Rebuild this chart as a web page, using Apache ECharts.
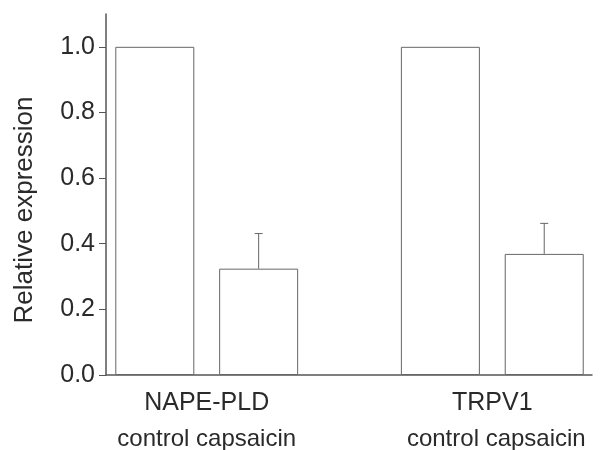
<!DOCTYPE html>
<html>
<head>
<meta charset="utf-8">
<script src="https://cdn.jsdelivr.net/npm/echarts@6/dist/echarts.min.js"></script>
<style>
  html, body { margin: 0; padding: 0; background: #fff; }
  #main { width: 600px; height: 450px; }
</style>
</head>
<body>
<div id="main"></div>
<script>
// data
const groups = ['NAPE-PLD', 'TRPV1'];
const conditions = ['control', 'capsaicin'];
const barPos = [0.47, 1.47, 3.22, 4.22];
const barValues = [1.0, 0.324, 1.0, 0.369];
const barErrors = [0, 0.107, 0, 0.093];
const tickValues = [0, 0.2, 0.4, 0.6, 0.8, 1.0];

const FONT = 'Liberation Sans, Arial, sans-serif';
const INK = '#2a2a2a';

let chart = echarts.init(document.getElementById('main'));

chart.setOption({
    animation: false,
    grid: { left: 106, right: 8, top: 14, bottom: 75 },
    xAxis: {
        type: 'value',
        min: 0,
        max: 4.68,
        axisLine: { show: true, onZero: false, lineStyle: { color: '#555', width: 1.5 } },
        axisTick: { show: false },
        axisLabel: { show: false },
        splitLine: { show: false },
    },
    yAxis: {
        type: 'value',
        min: 0,
        max: 1.1,
        axisLine: { show: true, lineStyle: { color: '#555', width: 1.5 } },
        axisTick: {
            show: true,
            length: 7,
            customValues: tickValues,
            lineStyle: { color: '#555', width: 1 },
        },
        axisLabel: {
            customValues: tickValues,
            formatter: v => v.toFixed(1),
            color: INK,
            fontFamily: FONT,
            fontSize: 25,
            margin: 11,
        },
        splitLine: { show: false },
    },
    series: [
        {
            type: 'bar',
            barWidth: 79,
            data: barPos.map((p, i) => [p, barValues[i]]),
            itemStyle: { color: '#fff', borderColor: '#666', borderWidth: 1 },
        },
        {
            type: 'custom',
            data: barPos.map((p, i) => [p, barValues[i], barErrors[i]]),
            renderItem: function (params, api) {
                let err = api.value(2);
                if (!err) return null;
                let base = api.coord([api.value(0), api.value(1)]);
                let top = api.coord([api.value(0), api.value(1) + err]);
                let style = { stroke: '#666', lineWidth: 1 };
                return {
                    type: 'group',
                    children: [
                        { type: 'line', shape: { x1: base[0], y1: base[1], x2: top[0], y2: top[1] }, style: style },
                        { type: 'line', shape: { x1: top[0] - 4, y1: top[1], x2: top[0] + 4, y2: top[1] }, style: style },
                    ],
                };
            },
            z: 3,
        },
    ],
});

// labels under each pair of bars
let texts = [];
groups.forEach((g, k) => {
    let a = chart.convertToPixel({ gridIndex: 0 }, [barPos[k * 2], 0]);
    let b = chart.convertToPixel({ gridIndex: 0 }, [barPos[k * 2 + 1], 0]);
    let cx = (a[0] + b[0]) / 2;
    texts.push({
        type: 'text',
        x: cx,
        y: 403,
        style: { text: g, font: '25px ' + FONT, fill: INK, align: 'center', verticalAlign: 'middle' },
    });
    texts.push({
        type: 'text',
        x: cx + k * 4,
        y: 439,
        style: { text: conditions.join(' '), font: '24px ' + FONT, fill: INK, align: 'center', verticalAlign: 'middle' },
    });
});
texts.push({
    type: 'text',
    x: 25,
    y: 210,
    rotation: Math.PI / 2,
    style: { text: 'Relative expression', font: '26px ' + FONT, fill: INK, align: 'center', verticalAlign: 'middle' },
});
chart.setOption({ graphic: texts });
</script>
</body>
</html>
